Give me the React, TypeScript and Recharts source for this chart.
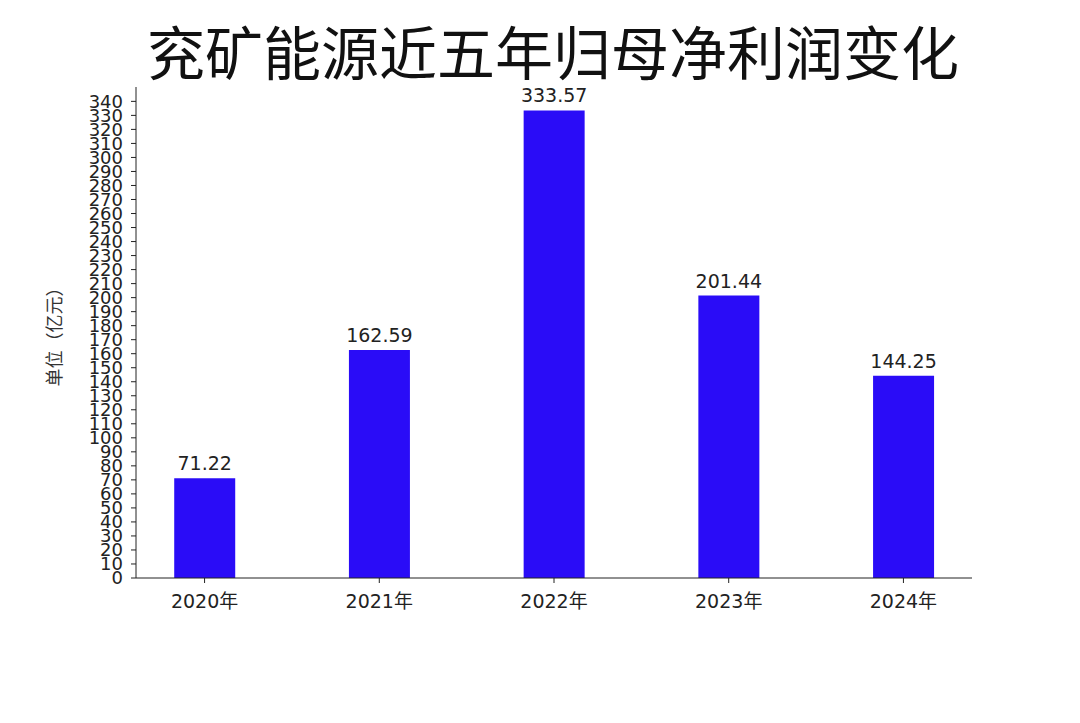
import { BarChart, Bar, XAxis, YAxis, LabelList } from "recharts";

// 兖矿能源 2020-2024 归母净利润 (亿元)
const years = ["2020年", "2021年", "2022年", "2023年", "2024年"];
const profits = [71.22, 162.59, 333.57, 201.44, 144.25];
const yTicks = [
  0, 10, 20, 30, 40, 50, 60, 70, 80, 90, 100, 110, 120, 130, 140, 150, 160, 170,
  180, 190, 200, 210, 220, 230, 240, 250, 260, 270, 280, 290, 300, 310, 320, 330, 340,
];

const data = years.map((year, i) => ({ x: i, year, value: profits[i] }));

const font = "'DejaVu Sans', 'Noto Sans CJK SC', sans-serif";

export default function App() {
  return (
    <div
      style={{
        position: "absolute",
        left: 0,
        top: 0,
        width: 1080,
        height: 723,
        background: "#fff",
        fontFamily: font,
      }}
    >
      <div
        style={{
          position: "absolute",
          left: 0,
          top: 12,
          width: 1106,
          textAlign: "center",
          fontSize: 58,
          fontFamily: "'Noto Sans CJK SC', sans-serif",
          color: "#111",
          lineHeight: "76px",
        }}
      >
        兖矿能源近五年归母净利润变化
      </div>
      <BarChart
        width={1080}
        height={723}
        data={data}
        margin={{ top: 87, right: 108, bottom: 0, left: 0 }}
      >
        <XAxis
          type="number"
          dataKey="x"
          domain={[-0.3925, 4.3925]}
          ticks={[0, 1, 2, 3, 4]}
          tickFormatter={(v: number) => years[v]}
          allowDataOverflow
          stroke="#222"
          tickSize={5}
          tick={{ fill: "#222", fontSize: 19, fontFamily: font }}
          tickMargin={12}
          height={145}
        />
        <YAxis
          domain={[0, 350.25]}
          ticks={yTicks}
          interval={0}
          allowDataOverflow
          stroke="#222"
          tickSize={5}
          tick={{ fill: "#222", fontSize: 18, fontFamily: font }}
          tickMargin={8}
          width={136}
          label={{
            value: "单位（亿元）",
            angle: -90,
            position: "insideLeft",
            offset: 55,
            style: { fill: "#333", fontSize: 18, textAnchor: "middle", fontFamily: font },
          }}
        />
        <Bar dataKey="value" fill="#2a0cf7" barSize={61} isAnimationActive={false}>
          <LabelList
            dataKey="value"
            position="top"
            offset={8}
            formatter={(v: number) => v.toFixed(2)}
            style={{ fill: "#222", fontSize: 19, fontFamily: font }}
          />
        </Bar>
      </BarChart>
    </div>
  );
}
